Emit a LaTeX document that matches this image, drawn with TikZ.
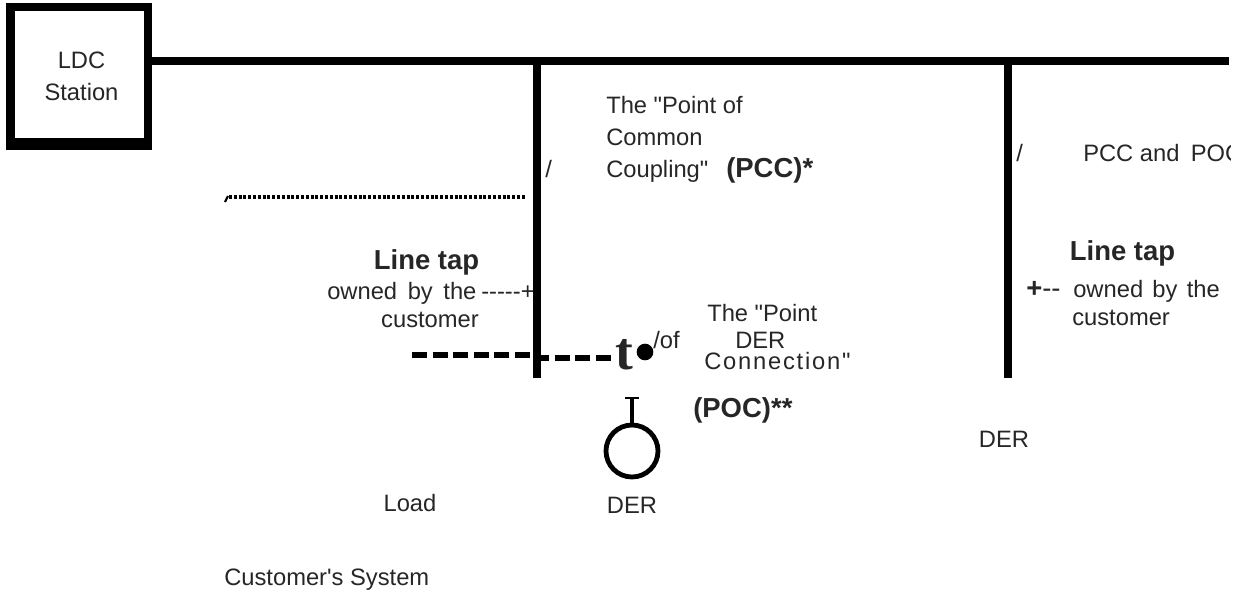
\documentclass[tikz,border=0pt]{standalone}
\usepackage{fontspec}
\newfontfamily\plainsans{Liberation Sans}
\newfontfamily\serifb{Liberation Serif}
\definecolor{ink}{HTML}{262626}
\tikzset{
  x=0.75pt,y=-0.75pt,
  lbl/.style={inner sep=0pt,text=ink,font=\plainsans\fontsize{17.8}{21}\selectfont,align=left},
  bold/.style={inner sep=0pt,text=ink,font=\plainsans\fontsize{20.6}{24}\selectfont\bfseries},
  wire/.style={line width=6pt,black},
  tapdash/.style={line width=5pt,black,dash pattern=on 11.25pt off 4.2pt}
}
\begin{document}
\begin{tikzpicture}
\useasboundingbox (0,0) rectangle (1238,593);
% station
\fill[black] (6,3) rectangle (152,150);
\node[fill=white,minimum width=96.75pt,minimum height=95.25pt,inner sep=0pt,anchor=north west] (station) at (15,11) {};
\node[lbl,anchor=base] (ldc) at (81.5,68) {LDC};
\node[lbl,anchor=base] (stat) at (81.5,100) {Station};
% bus and feeders
\coordinate (busend) at (1229,61);
\coordinate (f1top) at (537,61);
\coordinate (f1bot) at (537,378);
\coordinate (f2top) at (1008,61);
\coordinate (f2bot) at (1008,378);
\coordinate (busstart) at (152,61);
\draw[wire] (busstart) -- (busend);
\draw[wire] (f1top) -- (f1bot);
\draw[wire] (f2top) -- (f2bot);
% dotted line
\coordinate (dotl) at (229,197);
\coordinate (dotr) at (525,197);
\draw[line width=2.4pt,black,dash pattern=on 2.2pt off 1.4pt] (dotl) -- (dotr);
\coordinate (coma) at (228,196);
\coordinate (comb) at (225,202);
\draw[line width=1.6pt,black] (coma) -- (comb);
% dashed tap
\coordinate (dala) at (412,355);
\coordinate (dalb) at (530,355);
\coordinate (dara) at (541,358);
\coordinate (darb) at (611,358);
\draw[tapdash] (dala) -- (dalb);
\draw[tapdash] (darb) -- (dara);
\node[inner sep=0pt,anchor=base,font=\serifb\fontsize{40}{40}\selectfont\bfseries,text=ink] (tee) at (624,369) {t};
\node[circle,fill=black,minimum size=12.5pt,inner sep=0pt] (poc) at (645,352) {};
% DER symbol
\node[circle,draw=black,line width=3.6pt,minimum size=39pt,inner sep=0pt] (der) at (632,451) {};
\coordinate (stemtop) at (632,398);
\coordinate (capl) at (625,398);
\coordinate (capr) at (639,398);
\draw[line width=3pt,black] (stemtop) -- (der.north);
\draw[line width=1.4pt,black] (capl) -- (capr);
% labels
\node[lbl,anchor=base west] (pcca) at (606,113) {The "Point of};
\node[lbl,anchor=base west] (pccc) at (606,145) {Common};
\node[lbl,anchor=base west] (coup) at (606,177) {Coupling"};
\node[bold,anchor=base west] (pccb) at (726,177) {(PCC)*};
\node[lbl,anchor=base west] (sl1) at (545,177) {/};
\node[lbl,anchor=base west] (sl2) at (1016,161) {/};
\begin{scope}
\clip (1000,100) rectangle (1230,200);
\node[lbl,anchor=base west] (pp) at (1083,161) {PCC and\hspace{3.5pt} POC};
\end{scope}
\node[bold,anchor=base] (lt1) at (426.5,269) {Line tap};
\node[lbl,anchor=base west] (o1) at (327,299) {owned\hspace{3pt} by\hspace{3pt} the};
\node[lbl,anchor=base west] (d1) at (481,299) {-----+};
\node[lbl,anchor=base] (c1) at (430,327) {customer};
\node[bold,anchor=base] (lt2) at (1122.5,260) {Line tap};
\node[bold,anchor=base west,font=\plainsans\fontsize{20.6}{24}\selectfont] (d2) at (1026,297) {\textbf{+}--};
\node[lbl,anchor=base west] (o2) at (1073,297) {owned\hspace{2pt} by\hspace{2pt} the};
\node[lbl,anchor=base west] (c2) at (1072,325) {customer};
\node[lbl,anchor=base west] (of) at (653,348) {/of};
\node[lbl,anchor=base west] (tp) at (707,321) {The "Point};
\node[lbl,anchor=base west] (dr) at (735,348) {DER};
\node[lbl,anchor=base west] (cn) at (704,369) {\addfontfeature{LetterSpace=7.5}Connection"};
\node[bold,anchor=base west] (pocb) at (693,417) {(POC)**};
\node[lbl,anchor=base] (der1) at (632,513) {DER};
\node[lbl,anchor=base] (der2) at (1004,447) {DER};
\node[lbl,anchor=base] (load) at (410,511) {Load};
\node[lbl,anchor=base west] (cs) at (224,585) {Customer's System};
\end{tikzpicture}
\end{document}
